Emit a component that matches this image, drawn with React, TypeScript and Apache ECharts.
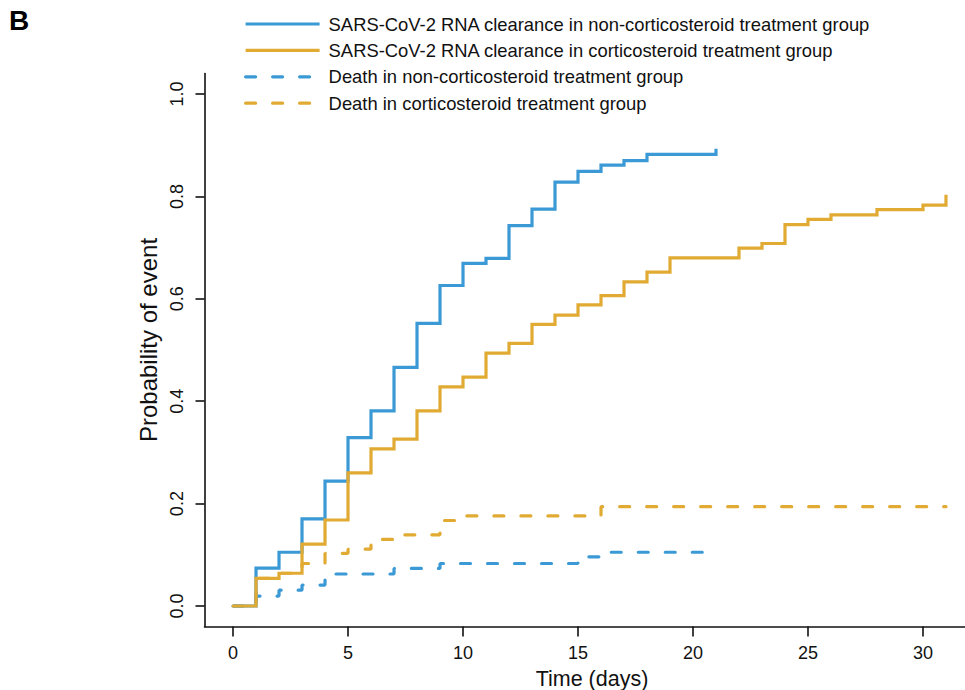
import React, { useEffect, useRef } from "react";
import * as echarts from "echarts";

const FONT = "'Liberation Sans', Arial, Helvetica, sans-serif";
const BLUE = "#3B9AD5";
const GOLD = "#E1AB33";

// SARS-CoV-2 RNA clearance, non-corticosteroid group
const clearNonDays = [0, 1, 2, 3, 4, 5, 6, 7, 8, 9, 10, 11, 12, 13, 14, 15, 16, 17, 18, 21];
const clearNonVals = [0, 0.074, 0.105, 0.17, 0.244, 0.329, 0.381, 0.466, 0.552, 0.626, 0.669, 0.679, 0.743, 0.775, 0.828, 0.849, 0.861, 0.87, 0.882, 0.893];

// SARS-CoV-2 RNA clearance, corticosteroid group
const clearCortDays = [0, 1, 2, 3, 4, 5, 6, 7, 8, 9, 10, 11, 12, 13, 14, 15, 16, 17, 18, 19, 22, 23, 24, 25, 26, 28, 30, 31];
const clearCortVals = [0, 0.054, 0.064, 0.121, 0.168, 0.26, 0.307, 0.326, 0.381, 0.428, 0.447, 0.494, 0.513, 0.55, 0.568, 0.588, 0.606, 0.633, 0.652, 0.68, 0.699, 0.708, 0.745, 0.755, 0.764, 0.774, 0.783, 0.803];

// Death, non-corticosteroid group
const deathNonDays = [0, 1, 2, 3, 4, 7, 9, 15, 16, 21];
const deathNonVals = [0, 0.0195, 0.031, 0.041, 0.0625, 0.0735, 0.083, 0.096, 0.105, 0.105];

// Death, corticosteroid group
const deathCortDays = [0, 1, 2, 3, 4, 5, 6, 7, 9, 10, 16, 31];
const deathCortVals = [0, 0.054, 0.064, 0.083, 0.103, 0.111, 0.13, 0.139, 0.167, 0.176, 0.194, 0.194];

const xTicks = [0, 5, 10, 15, 20, 25, 30];
const yTicks = [0, 0.2, 0.4, 0.6, 0.8, 1.0];

const names = [
  "SARS-CoV-2 RNA clearance in non-corticosteroid treatment group",
  "SARS-CoV-2 RNA clearance in corticosteroid treatment group",
  "Death in non-corticosteroid treatment group",
  "Death in corticosteroid treatment group",
];
const panelLabel = "B";
const xTitle = "Time (days)";
const yTitle = "Probability of event";

const pairs = (d: number[], v: number[]) => d.map((x, i) => [x, v[i]]);

export default function App() {
  const ref = useRef<HTMLDivElement>(null);
  useEffect(() => {
    if (!ref.current) return;
    const chart = echarts.init(ref.current, undefined, { renderer: "svg" });
    const solid = (color: string) => ({
      color,
      width: 3.2,
      type: "solid" as const,
      cap: "butt" as const,
      join: "miter" as const,
    });
    const dashed = (color: string) => ({
      color,
      width: 3.2,
      type: [10, 17],
      cap: "round" as const,
    });
    chart.setOption({
      animation: false,
      backgroundColor: "#ffffff",
      textStyle: { fontFamily: FONT },
      graphic: [
        {
          type: "text",
          left: 9,
          top: 6,
          style: { text: panelLabel, fontSize: 28, fontWeight: "bold", fontFamily: FONT, fill: "#000" },
        },
        {
          type: "text",
          x: 148,
          y: 340,
          rotation: Math.PI / 2,
          style: {
            text: yTitle,
            fontSize: 24,
            fontFamily: FONT,
            fill: "#111",
            align: "center",
            verticalAlign: "middle",
          },
        },
      ],
      legend: {
        orient: "vertical",
        left: 244,
        top: 15,
        padding: 0,
        itemWidth: 74,
        itemHeight: 12,
        itemGap: 8.4,
        data: names,
        itemStyle: { opacity: 0 },
        lineStyle: { width: 3.2 },
        textStyle: { fontSize: 18.4, color: "#111", fontFamily: FONT, padding: [0, 0, 0, 4] },
      },
      grid: {
        left: 204.5,
        width: 770,
        top: 73.5,
        height: 553,
        containLabel: false,
        outerBoundsMode: "none",
      },
      xAxis: {
        type: "value",
        min: -1.24,
        max: 32.24,
        name: xTitle,
        nameLocation: "middle",
        nameGap: 41,
        nameTextStyle: { fontSize: 21.5, color: "#111", fontFamily: FONT, padding: [0, 0, 0, 5] },
        axisLine: { onZero: false, lineStyle: { color: "#111", width: 1.6 } },
        axisTick: { show: true, customValues: xTicks, length: 10, lineStyle: { color: "#111", width: 1.6 } },
        axisLabel: { customValues: xTicks, fontSize: 18, color: "#111", margin: 17, fontFamily: FONT },
        splitLine: { show: false },
      },
      yAxis: {
        type: "value",
        min: -0.04,
        max: 1.04,
        axisLine: { onZero: false, lineStyle: { color: "#111", width: 1.6 } },
        axisTick: { show: true, customValues: yTicks, length: 9, lineStyle: { color: "#111", width: 1.6 } },
        axisLabel: {
          customValues: yTicks,
          rotate: 90,
          fontSize: 18,
          color: "#111",
          margin: 19,
          fontFamily: FONT,
          formatter: (v: number) => v.toFixed(1),
        },
        splitLine: { show: false },
      },
      series: [
        {
          name: names[2],
          type: "line",
          step: "end",
          symbol: "none",
          data: pairs(deathNonDays, deathNonVals),
          lineStyle: dashed(BLUE),
          itemStyle: { color: BLUE },
        },
        {
          name: names[3],
          type: "line",
          step: "end",
          symbol: "none",
          data: pairs(deathCortDays, deathCortVals),
          lineStyle: dashed(GOLD),
          itemStyle: { color: GOLD },
        },
        {
          name: names[0],
          type: "line",
          step: "end",
          symbol: "none",
          data: pairs(clearNonDays, clearNonVals),
          lineStyle: solid(BLUE),
          itemStyle: { color: BLUE },
        },
        {
          name: names[1],
          type: "line",
          step: "end",
          symbol: "none",
          data: pairs(clearCortDays, clearCortVals),
          lineStyle: solid(GOLD),
          itemStyle: { color: GOLD },
        },
      ],
    });
    return () => chart.dispose();
  }, []);
  return (
    <div
      ref={ref}
      style={{ position: "absolute", left: 0, top: 0, width: 965, height: 690, background: "#fff" }}
    />
  );
}
